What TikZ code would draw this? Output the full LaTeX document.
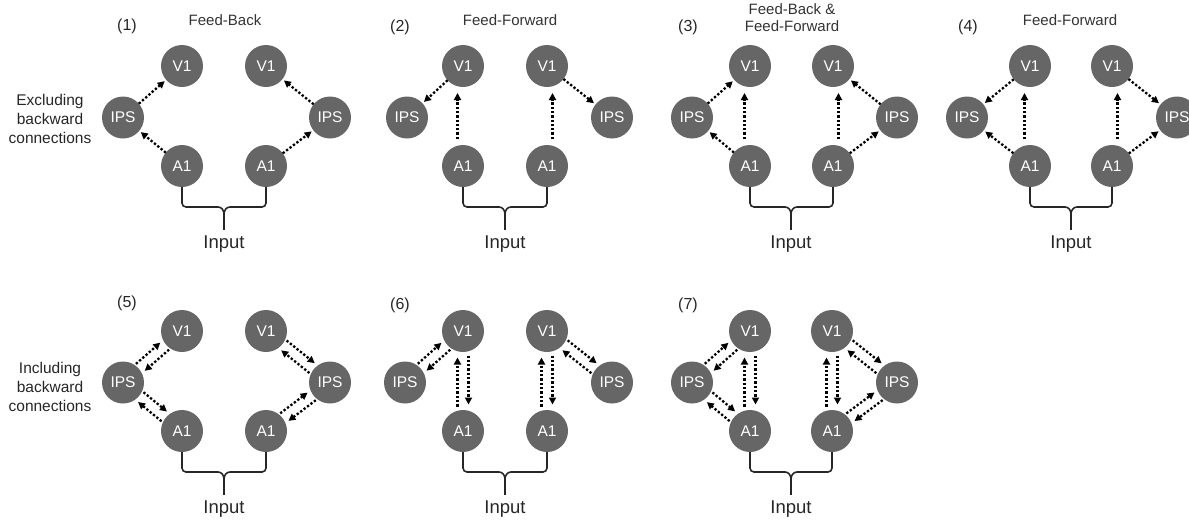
\documentclass[tikz,border=0pt]{standalone}
\usepackage{fontspec}
\setmainfont{Liberation Sans}
\usetikzlibrary{arrows.meta,calc}
\tikzset{
  cell/.style={circle, fill=black!60, draw=none, minimum size=42pt, inner sep=0pt, outer sep=0pt,
    text=white, font=\fontsize{15.5}{15.5}\selectfont},
  arr/.style={line width=2.3pt, dash pattern=on 2.3pt off 2pt, -{Triangle[length=7pt,width=7pt]}},
  brace/.style={line width=1.6pt, draw=black!85},
  inp/.style={font=\fontsize{18.5}{20}\selectfont, text=black!85},
  ttl/.style={font=\fontsize{15}{17}\selectfont, text=black!80, align=center},
  num/.style={font=\fontsize{16}{18}\selectfont, text=black!85},
  side/.style={font=\fontsize{15.5}{19}\selectfont, text=black!85, align=center},
}
% #1 id, #2 xVL, #3 xVR, #4 xIL, #5 xIR, #6 y offset, #7 mid x
\newcommand\mkpanel[7]{%
  \node[cell] (#1vl) at (#2,{66+#6}) {V1};
  \node[cell] (#1vr) at (#3,{66+#6}) {V1};
  \node[cell] (#1il) at (#4,{117.5+#6}) {IPS};
  \node[cell] (#1ir) at (#5,{117.5+#6}) {IPS};
  \node[cell] (#1al) at (#2,{166+#6}) {A1};
  \node[cell] (#1ar) at (#3,{166+#6}) {A1};
  \coordinate (#1bl) at ({#7-6},{207+#6});
  \coordinate (#1br) at ({#7+6},{207+#6});
  \coordinate (#1bm) at (#7,{214+#6});
  \coordinate (#1bs) at (#7,{230+#6});
  \draw[brace,rounded corners=4pt] (#1al.south) |- (#1bl);
  \draw[brace,rounded corners=4pt] (#1ar.south) |- (#1br);
  \draw[brace] (#1bl) to[out=0,in=90] (#1bm);
  \draw[brace] (#1br) to[out=180,in=90] (#1bm);
  \draw[brace] (#1bm) -- (#1bs);
  \node[inp] (#1in) at (#7,{244+#6}) {Input};
}
\newcommand\one[2]{\draw[arr, shorten <=21pt, shorten >=23pt] (#1.center) -- (#2.center);}
\newcommand\vone[3]{\draw[arr, shorten <=27pt, shorten >=27pt] ([xshift=#3pt]#1.center) -- ([xshift=#3pt]#2.center);}
\newcommand\two[3]{%
  \draw[arr, shorten <=#3pt, shorten >=#3pt+2pt] ($(#1.center)!5.5pt!90:(#2.center)$) -- ($(#2.center)!5.5pt!-90:(#1.center)$);
  \draw[arr, shorten <=#3pt, shorten >=#3pt+2pt] ($(#2.center)!5.5pt!90:(#1.center)$) -- ($(#1.center)!5.5pt!-90:(#2.center)$);}
\begin{document}
\begin{tikzpicture}[x=1pt,y=-1pt]
\useasboundingbox (0,0) rectangle (1189,520);
\clip (0,0) rectangle (1189,520);
\mkpanel{p1}{182}{266}{123}{330}{0}{224}
\mkpanel{p2}{463}{547}{407}{612}{0}{505}
\mkpanel{p3}{750}{833}{692}{897}{0}{791}
\mkpanel{p4}{1030}{1112}{967}{1177}{0}{1071}
\mkpanel{p5}{182}{266}{123}{330}{265}{224}
\mkpanel{p6}{463}{547}{405}{612}{265}{505}
\mkpanel{p7}{750}{832}{692}{897}{265}{791}
% labels
\node[num] (n1) at (127,26) {(1)};
\node[num] (n2) at (400,27) {(2)};
\node[num] (n3) at (688,27) {(3)};
\node[num] (n4) at (968,27) {(4)};
\node[num] (n5) at (127,303) {(5)};
\node[num] (n6) at (400,305) {(6)};
\node[num] (n7) at (688,305) {(7)};
\node[ttl] (t1) at (225,20) {Feed-Back};
\node[ttl] (t2) at (510,20) {Feed-Forward};
\node[ttl] (t3) at (792,18) {Feed-Back \&\\Feed-Forward};
\node[ttl] (t4) at (1070,20) {Feed-Forward};
\node[side] (s1) at (50,119) {Excluding\\backward\\connections};
\node[side] (s2) at (50,387) {Including\\backward\\connections};
% panel 1
\one{p1il}{p1vl} \one{p1al}{p1il} \one{p1ar}{p1ir} \one{p1ir}{p1vr}
% panel 2
\one{p2vl}{p2il} \vone{p2al}{p2vl}{-5.5} \vone{p2ar}{p2vr}{5.5} \one{p2vr}{p2ir}
% panel 3
\one{p3il}{p3vl} \vone{p3al}{p3vl}{-5.5} \one{p3al}{p3il}
\vone{p3ar}{p3vr}{5.5} \one{p3ir}{p3vr} \one{p3ar}{p3ir}
% panel 4
\one{p4vl}{p4il} \vone{p4al}{p4vl}{-5.5} \one{p4al}{p4il}
\vone{p4ar}{p4vr}{5.5} \one{p4vr}{p4ir} \one{p4ar}{p4ir}
% panel 5
\two{p5il}{p5vl}{22} \two{p5il}{p5al}{22} \two{p5vr}{p5ir}{22} \two{p5ar}{p5ir}{22}
% panel 6
\two{p6il}{p6vl}{22} \two{p6al}{p6vl}{24.5} \two{p6ar}{p6vr}{24.5} \two{p6vr}{p6ir}{22}
% panel 7
\two{p7il}{p7vl}{22} \two{p7il}{p7al}{22} \two{p7al}{p7vl}{24.5}
\two{p7ar}{p7vr}{24.5} \two{p7vr}{p7ir}{22} \two{p7ar}{p7ir}{22}
\end{tikzpicture}
\end{document}
